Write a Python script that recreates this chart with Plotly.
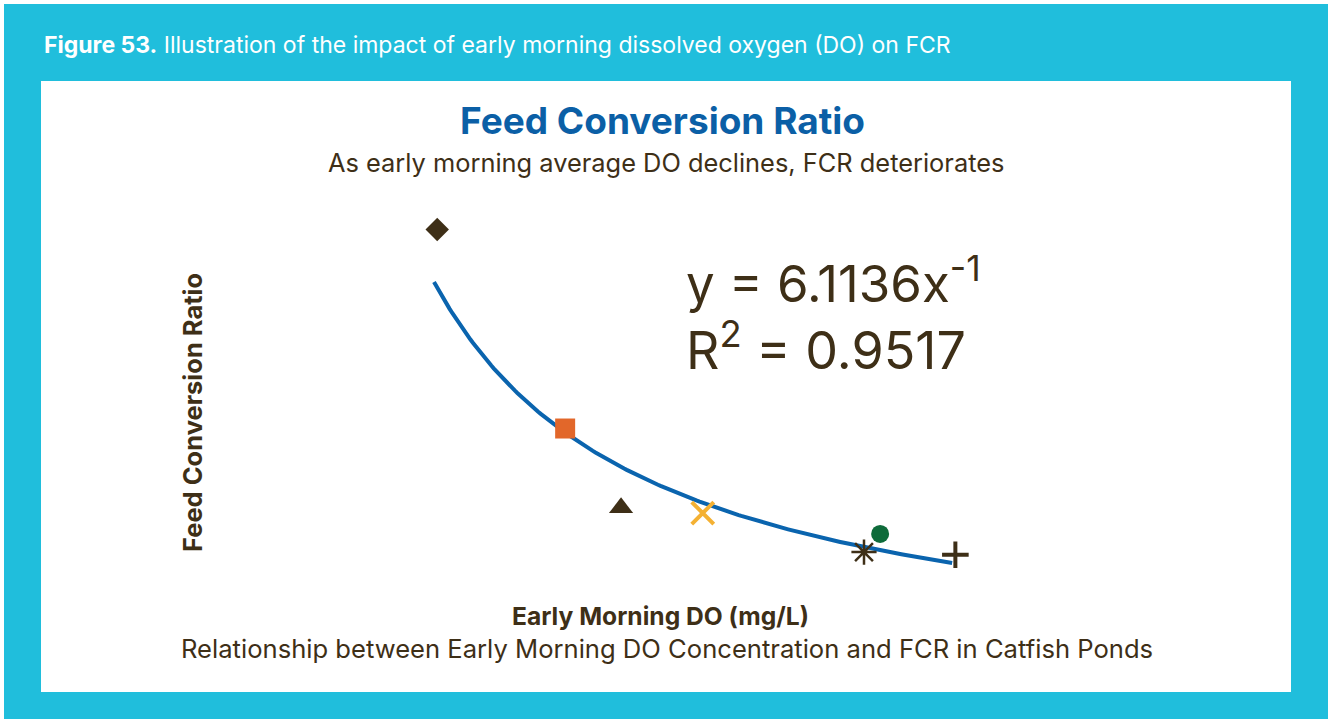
import numpy as np
import plotly.graph_objects as go

# ── Data ──────────────────────────────────────────────────────────────────────
pond_do = [2.03, 3.22, 3.74, 4.50, 6.00, 6.15, 6.85]      # early morning DO (mg/L)
pond_fcr = [3.46, 1.93, 1.32, 1.28, 0.98, 1.12, 0.96]     # feed conversion ratio

trend_coef = 6.1136      # y = 6.1136 x^-1
trend_exp = -1
trend_do_min = 2.0
trend_do_max = 6.82

# ── Styles ────────────────────────────────────────────────────────────────────
W, H = 1328, 719
FONT = "Inter, Roboto, sans-serif"
CYAN = "#20BEDC"
BLUE = "#0B5FA6"
LINE_BLUE = "#0A64AE"
BROWN = "#3E2F17"

marker_symbols = ["diamond", "square", "triangle-up", "x-thin-open",
                  "asterisk-open", "circle", "cross-thin-open"]
marker_colors = [BROWN, "#E2672A", BROWN, "#F4B133", BROWN, "#0E6B3A", BROWN]
marker_sizes = [18, 20, 21, 22, 21, 18, 19]
marker_lines = [0, 0, 0, 4, 2.5, 0, 4]


def px(x):
    return x / W


def py(y):
    return 1 - y / H


fig = go.Figure()

# trendline from the chart's own power fit
trend_x = np.linspace(trend_do_min, trend_do_max, 200)
fig.add_trace(go.Scatter(
    x=trend_x, y=trend_coef * trend_x ** trend_exp,
    mode="lines", line=dict(color=LINE_BLUE, width=4),
    showlegend=False, hoverinfo="skip",
))

# one trace per pond so each keeps its own symbol
for i in range(len(pond_do)):
    fig.add_trace(go.Scatter(
        x=[pond_do[i]], y=[pond_fcr[i]], mode="markers",
        marker=dict(symbol=marker_symbols[i], color=marker_colors[i],
                    size=marker_sizes[i],
                    line=dict(color=marker_colors[i], width=marker_lines[i])),
        showlegend=False,
        hovertemplate="DO: %{x:.2f}<br>FCR: %{y:.2f}<extra></extra>",
    ))

annotations = [
    dict(x=px(42), y=py(45), xanchor="left", yanchor="middle",
         text="<b>Figure 53.</b> Illustration of the impact of early morning dissolved oxygen (DO) on FCR",
         font=dict(size=23, color="white")),
    dict(x=px(662), y=py(120), xanchor="center", yanchor="middle",
         text="<b>Feed Conversion Ratio</b>", font=dict(size=37, color=BLUE)),
    dict(x=px(666), y=py(162), xanchor="center", yanchor="middle",
         text="As early morning average DO declines, FCR deteriorates",
         font=dict(size=25.4, color=BROWN)),
    dict(x=px(684), y=py(280), xanchor="left", yanchor="middle",
         text="y = 6.1136x<sup>-1</sup>", font=dict(size=51, color=BROWN)),
    dict(x=px(684), y=py(347), xanchor="left", yanchor="middle",
         text="R<sup>2</sup> = 0.9517", font=dict(size=52, color=BROWN)),
    dict(x=px(192), y=py(413), xanchor="center", yanchor="middle", textangle=-90,
         text="<b>Feed Conversion Ratio</b>", font=dict(size=25.5, color=BROWN)),
    dict(x=px(660), y=py(616), xanchor="center", yanchor="middle",
         text="<b>Early Morning DO (mg/L)</b>", font=dict(size=24.6, color=BROWN)),
    dict(x=px(667), y=py(648), xanchor="center", yanchor="middle",
         text="Relationship between Early Morning DO Concentration and FCR in Catfish Ponds",
         font=dict(size=25.6, color=BROWN)),
]
for a in annotations:
    a.update(xref="paper", yref="paper", showarrow=False)

shapes = [
    dict(type="rect", xref="paper", yref="paper", x0=px(4), x1=1, y0=0, y1=py(4),
         fillcolor=CYAN, line=dict(width=0), layer="below"),
    dict(type="rect", xref="paper", yref="paper", x0=px(41), x1=px(1291),
         y0=py(692), y1=py(81), fillcolor="white", line=dict(width=0), layer="below"),
]

fig.update_layout(
    width=W, height=H, autosize=False,
    margin=dict(l=0, r=0, t=0, b=0),
    paper_bgcolor="white", plot_bgcolor="rgba(0,0,0,0)",
    font=dict(family=FONT, color=BROWN),
    xaxis=dict(domain=[px(219), px(1119)], range=[0, 900 / 107.5],
               showgrid=False, zeroline=False, showline=False,
               showticklabels=False, ticks=""),
    yaxis=dict(domain=[py(679.6), py(200)], range=[0, 479.6 / 130.1],
               showgrid=False, zeroline=False, showline=False,
               showticklabels=False, ticks=""),
    annotations=annotations,
    shapes=shapes,
)

# drop the default page margin so the figure sits flush in the window
fig.write_html("out.html", config={"displayModeBar": False},
               post_script="document.body.style.margin='0';")
